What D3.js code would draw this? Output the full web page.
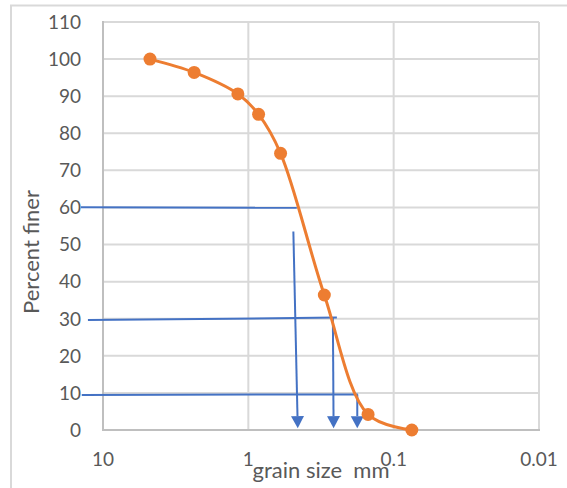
<!DOCTYPE html>
<html>
<head>
<meta charset="utf-8">
<script src="https://cdn.jsdelivr.net/npm/d3@7"></script>
<style>
  html, body { margin: 0; padding: 0; background: #fff; }
  svg { display: block; }
  text { font-family: Lato, "Open Sans", sans-serif; fill: #595959; }
</style>
</head>
<body>
<svg id="chart" width="567" height="488"></svg>
<script>
// Sieve data
const grainSize = [4.75, 2.36, 1.18, 0.85, 0.6, 0.3, 0.15, 0.075];
const percentFiner = [100, 96.4, 90.6, 85.1, 74.6, 36.4, 4.2, 0];

// Axis ticks
const xTicks = [10, 1, 0.1, 0.01];
const xTickLabels = ["10", "1", "0.1", "0.01"];
const yTicks = [0, 10, 20, 30, 40, 50, 60, 70, 80, 90, 100, 110];

// Hand-drawn D60 / D30 / D10 annotations (data units)
const guidePct = [60, 30, 10];
const guideStartD = [14.2, 12.7, 14.0];
const guideStartPct = [60.06, 29.66, 9.44];
const guideEndD = [0.464, 0.246, 0.1766];
const guideEndPct = [59.9, 30.3, 9.6];
const arrowTopD = [0.490, 0.262, 0.178];
const arrowTopPct = [53.5, 30.3, 9.6];
const arrowTipD = [0.457, 0.259, 0.178];
const arrowTipPct = [0.5, 0.5, 0.5];

const svg = d3.select("#chart");
const x = d3.scaleLog().domain([10, 0.01]).range([103, 539]);
const y = d3.scaleLinear().domain([0, 110]).range([430, 22]);

// Outer chart frame
svg.append("path")
  .attr("d", "M11,490 L11,5.5 L570,5.5")
  .attr("fill", "none").attr("stroke", "#d9d9d9").attr("stroke-width", 2);

// Horizontal gridlines
svg.append("g").selectAll("line").data(yTicks.filter(d => d > 0)).join("line")
  .attr("x1", x(10)).attr("x2", x(0.01))
  .attr("y1", d => y(d)).attr("y2", d => y(d))
  .attr("stroke", "#d9d9d9").attr("stroke-width", 2);

// Vertical gridlines
svg.append("g").selectAll("line").data(xTicks.filter(d => d < 10)).join("line")
  .attr("x1", d => x(d)).attr("x2", d => x(d))
  .attr("y1", y(110)).attr("y2", y(0))
  .attr("stroke", "#d9d9d9").attr("stroke-width", 2);

// Axis lines
svg.append("line").attr("x1", x(10)).attr("x2", x(10)).attr("y1", y(110) - 1).attr("y2", y(0) + 1)
  .attr("stroke", "#bfbfbf").attr("stroke-width", 2);
svg.append("line").attr("x1", x(10)).attr("x2", x(0.01) + 1).attr("y1", y(0)).attr("y2", y(0))
  .attr("stroke", "#bfbfbf").attr("stroke-width", 2);

// Y tick labels
svg.append("g").selectAll("text").data(yTicks).join("text")
  .attr("x", 81).attr("y", d => y(d)).attr("dy", "0.36em")
  .attr("text-anchor", "end").attr("font-size", 19)
  .text(d => d);

// X tick labels
svg.append("g").selectAll("text").data(xTicks).join("text")
  .attr("x", d => x(d)).attr("y", 466)
  .attr("text-anchor", "middle").attr("font-size", 19)
  .text((d, i) => xTickLabels[i]);

// Axis titles
svg.append("text").attr("x", 321).attr("y", 478).attr("text-anchor", "middle")
  .attr("font-size", 22).text("grain size\u00a0\u00a0mm");
svg.append("text").attr("transform", "translate(39,252) rotate(-90)")
  .attr("text-anchor", "middle").attr("font-size", 22).text("Percent finer");

// Blue guide lines
const blue = "#4472c4";
const g = svg.append("g");
guidePct.forEach((p, i) => {
  g.append("line")
    .attr("x1", x(guideStartD[i])).attr("y1", y(guideStartPct[i]))
    .attr("x2", x(guideEndD[i])).attr("y2", y(guideEndPct[i]))
    .attr("stroke", blue).attr("stroke-width", 2);
  const x1 = x(arrowTopD[i]), y1 = y(arrowTopPct[i]);
  const x2 = x(arrowTipD[i]), y2 = y(arrowTipPct[i]);
  const ang = Math.atan2(y2 - y1, x2 - x1);
  const len = 12, hw = 6.5;
  const bx = x2 - len * Math.cos(ang), by = y2 - len * Math.sin(ang);
  g.append("line").attr("x1", x1).attr("y1", y1).attr("x2", bx).attr("y2", by)
    .attr("stroke", blue).attr("stroke-width", 2);
  const px = -Math.sin(ang), py = Math.cos(ang);
  g.append("path")
    .attr("d", `M${x2},${y2} L${bx + px * hw},${by + py * hw} L${bx - px * hw},${by - py * hw} Z`)
    .attr("fill", blue);
});

// Orange smooth curve
const pts = grainSize.map((d, i) => [d, percentFiner[i]]);
const line = d3.line().x(d => x(d[0])).y(d => y(d[1])).curve(d3.curveCatmullRom.alpha(0.5));
svg.append("path").datum(pts).attr("d", line)
  .attr("fill", "none").attr("stroke", "#ed7d31").attr("stroke-width", 3);
svg.append("g").selectAll("circle").data(pts).join("circle")
  .attr("cx", d => x(d[0])).attr("cy", d => y(d[1])).attr("r", 6.5)
  .attr("fill", "#ed7d31");
</script>
</body>
</html>
